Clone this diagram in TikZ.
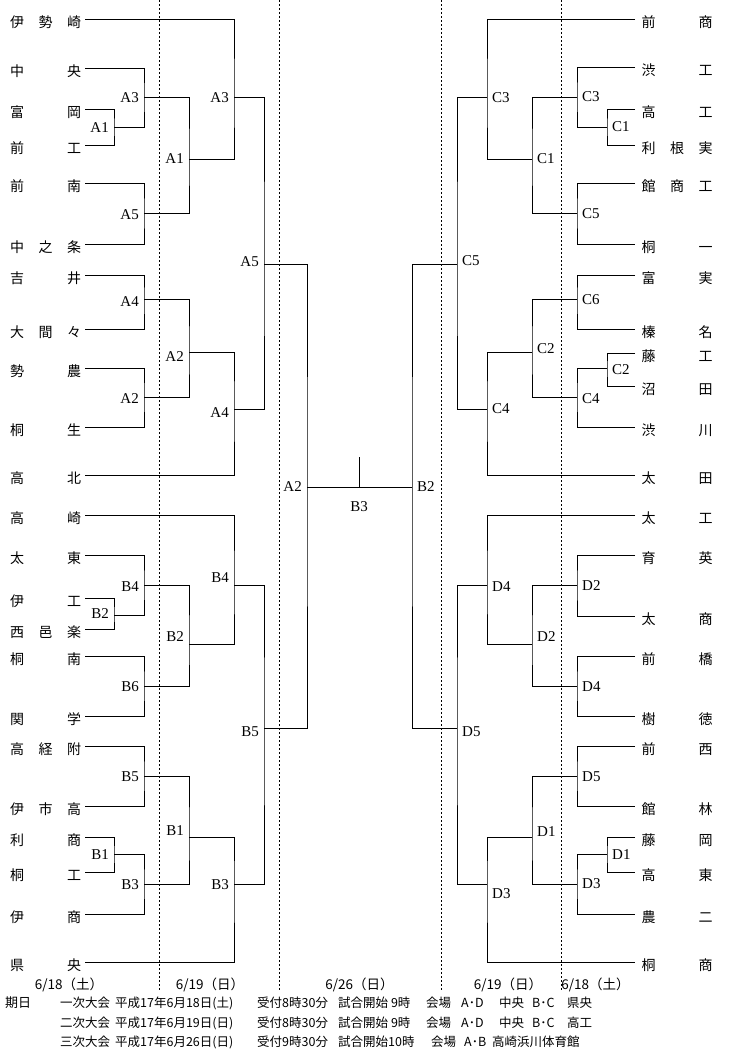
\documentclass[tikz,border=0pt]{standalone}
\usepackage{fontspec}
\setmainfont{Noto Sans CJK JP}
\newfontfamily\labfont{Liberation Serif}
\newcommand\tnm[3]{\makebox[28.5pt][l]{#1}\makebox[28.5pt][l]{#2}#3}
\tikzset{
  team/.style={inner sep=0pt, anchor=west, font=\fontsize{14}{14}\selectfont},
  lbl/.style={inner sep=0pt, font=\labfont\fontsize{15}{15}\selectfont},
  br/.style={line width=1pt},
  guide/.style={line width=0.8pt, dash pattern=on 2pt off 2pt},
  datetxt/.style={inner sep=0pt, font=\fontsize{13.5}{13.5}\selectfont},
  foot/.style={inner sep=0pt, anchor=west, font=\fontsize{12.5}{12.5}\selectfont}
}
\newcommand\mtchL[7]{\coordinate (#1) at (#2,#3);
  \draw[br] (#4) -| (#1) |- (#5);
  \node[lbl,anchor=east] (#1t) at (#2-5,#7) {#6};}
\newcommand\mtchR[7]{\coordinate (#1) at (#2,#3);
  \draw[br] (#4) -| (#1) |- (#5);
  \node[lbl,anchor=west] (#1t) at (#2+5,#7) {#6};}
\begin{document}
\begin{tikzpicture}[x=1pt,y=-1pt]
\fill[white] (0,0) rectangle (734,1053);
\useasboundingbox (0,0) rectangle (734,1053);
% guides
\foreach \x in {159.5,279,441.5,561} \draw[guide] (\x,0) -- (\x,990);
% left teams
\foreach \n/\y/\a/\b/\c in {1/19/伊/勢/崎,2/68/中//央,3/109/富//岡,4/145/前//工,5/183/前//南,6/244/中/之/条,7/275/吉//井,8/329/大/間/々,9/368/勢//農,10/427/桐//生,11/475/高//北,12/515/高//崎,13/555/太//東,14/598/伊//工,15/629/西/邑/楽,16/656/桐//南,17/716/関//学,18/746/高/経/附,19/806/伊/市/高,20/837/利//商,21/872/桐//工,22/914/伊//商,23/962/県//央}
{\node[team] (L\n) at (10,\y+3) {\tnm{\a}{\b}{\c}};
 \coordinate (l\n) at (85,\y);}
% right teams
\foreach \n/\y/\a/\b/\c in {1/19/前//商,2/67/渋//工,3/109/高//工,4/145/利/根/実,5/183/館/商/工,6/244/桐//一,7/275/富//実,8/329/榛//名,9/353/藤//工,10/386/沼//田,11/427/渋//川,12/475/太//田,13/515/太//工,14/555/育//英,15/616/太//商,16/656/前//橋,17/716/樹//徳,18/746/前//西,19/806/館//林,20/837/藤//岡,21/872/高//東,22/914/農//二,23/962/桐//商}
{\node[team] (R\n) at (641.5,\y+3) {\tnm{\a}{\b}{\c}};
 \coordinate (r\n) at (635,\y);}
% left brackets
\mtchL{A1i}{114}{127}{l3}{l4}{A1}{128}
\mtchL{A3r}{144}{97}{l2}{A1i}{A3}{98}
\mtchL{A5r}{144}{213}{l5}{l6}{A5}{215}
\mtchL{A1s}{189}{159}{A3r}{A5r}{A1}{159}
\mtchL{A3t}{234}{97}{l1}{A1s}{A3}{98}
\mtchL{A4r}{144}{299}{l7}{l8}{A4}{302}
\mtchL{A2r}{144}{397}{l9}{l10}{A2}{399}
\mtchL{A2s}{189}{352}{A4r}{A2r}{A2}{357}
\mtchL{A4t}{234}{409}{A2s}{l11}{A4}{413}
\mtchL{A5f}{264}{264}{A3t}{A4t}{A5}{262}
\mtchL{B2i}{114}{615}{l14}{l15}{B2}{614}
\mtchL{B4r}{144}{585}{l13}{B2i}{B4}{587}
\mtchL{B6r}{144}{686}{l16}{l17}{B6}{687}
\mtchL{B2s}{189}{644}{B4r}{B6r}{B2}{637}
\mtchL{B4t}{234}{585}{l12}{B2s}{B4}{578}
\mtchL{B5r}{144}{776}{l18}{l19}{B5}{777}
\mtchL{B1i}{114}{854}{l20}{l21}{B1}{855}
\mtchL{B3r}{144}{884}{B1i}{l22}{B3}{885}
\mtchL{B1s}{189}{837}{B5r}{B3r}{B1}{831}
\mtchL{B3t}{234}{884}{B1s}{l23}{B3}{885}
\mtchL{B5f}{264}{728}{B4t}{B3t}{B5}{732}
\mtchL{A2f}{307}{487}{A5f}{B5f}{A2}{487}
% right brackets
\mtchR{C1i}{607}{127}{r3}{r4}{C1}{127}
\mtchR{C3r}{577}{97}{r2}{C1i}{C3}{97}
\mtchR{C5r}{577}{213}{r5}{r6}{C5}{214}
\mtchR{C1s}{532}{159}{C3r}{C5r}{C1}{159}
\mtchR{C3t}{487}{97}{r1}{C1s}{C3}{98}
\mtchR{C6r}{577}{299}{r7}{r8}{C6}{300}
\mtchR{C2i}{607}{368}{r9}{r10}{C2}{370}
\mtchR{C4r}{577}{397}{C2i}{r11}{C4}{399}
\mtchR{C2s}{532}{352}{C6r}{C4r}{C2}{349}
\mtchR{C4t}{487}{409}{C2s}{r12}{C4}{409}
\mtchR{C5f}{457}{264}{C3t}{C4t}{C5}{261}
\mtchR{D2r}{577}{585}{r14}{r15}{D2}{586}
\mtchR{D4r}{577}{686}{r16}{r17}{D4}{687}
\mtchR{D2s}{532}{644}{D2r}{D4r}{D2}{637}
\mtchR{D4t}{487}{585}{r13}{D2s}{D4}{587}
\mtchR{D5r}{577}{776}{r18}{r19}{D5}{777}
\mtchR{D1i}{607}{854}{r20}{r21}{D1}{855}
\mtchR{D3r}{577}{884}{D1i}{r22}{D3}{884}
\mtchR{D1s}{532}{837}{D5r}{D3r}{D1}{832}
\mtchR{D3t}{487}{884}{D1s}{r23}{D3}{894}
\mtchR{D5f}{457}{728}{D4t}{D3t}{D5}{732}
\mtchR{B2f}{412}{487}{C5f}{D5f}{B2}{487}
% final
\draw[br] (A2f) -- (B2f);
\coordinate (B3top) at (359,457);
\coordinate (B3mid) at (359,487);
\draw[br] (B3top) -- (B3mid);
\node[lbl] (B3fin) at (359,507) {B3};
% dates
\node[datetxt] (d1) at (69,985) {6/18（土）};
\node[datetxt] (d2) at (210,985) {6/19（日）};
\node[datetxt] (d3) at (359.5,985) {6/26（日）};
\node[datetxt] (d4) at (508,985) {6/19（日）};
\node[datetxt] (d5) at (595.5,985) {6/18（土）};
% footer
\node[foot,font=\fontsize{13}{13}\selectfont] (kijitsu) at (5,1003) {期日};
\node[foot] (f11) at (60,1003) {一次大会};
\node[foot] (f12) at (115,1003) {平成17年6月18日(土)};
\node[foot] (f13) at (257,1003) {受付8時30分};
\node[foot] (f14) at (338,1003) {試合開始 9時};
\node[foot] (f15) at (426,1003) {会場};
\node[foot] (f16) at (461,1003) {A･D};
\node[foot] (f17) at (499,1003) {中央};
\node[foot] (f18) at (532,1003) {B･C};
\node[foot] (f19) at (567,1003) {県央};
\node[foot] (f21) at (60,1023) {二次大会};
\node[foot] (f22) at (115,1023) {平成17年6月19日(日)};
\node[foot] (f23) at (257,1023) {受付8時30分};
\node[foot] (f24) at (338,1023) {試合開始 9時};
\node[foot] (f25) at (426,1023) {会場};
\node[foot] (f26) at (461,1023) {A･D};
\node[foot] (f27) at (499,1023) {中央};
\node[foot] (f28) at (532,1023) {B･C};
\node[foot] (f29) at (567,1023) {高工};
\node[foot] (f31) at (60,1042) {三次大会};
\node[foot] (f32) at (115,1042) {平成17年6月26日(日)};
\node[foot] (f33) at (257,1042) {受付9時30分};
\node[foot] (f34) at (338,1042) {試合開始10時};
\node[foot] (f35) at (431,1042) {会場};
\node[foot] (f36) at (464,1042) {A･B};
\node[foot] (f37) at (492,1042) {高崎浜川体育館};
\end{tikzpicture}
\end{document}
